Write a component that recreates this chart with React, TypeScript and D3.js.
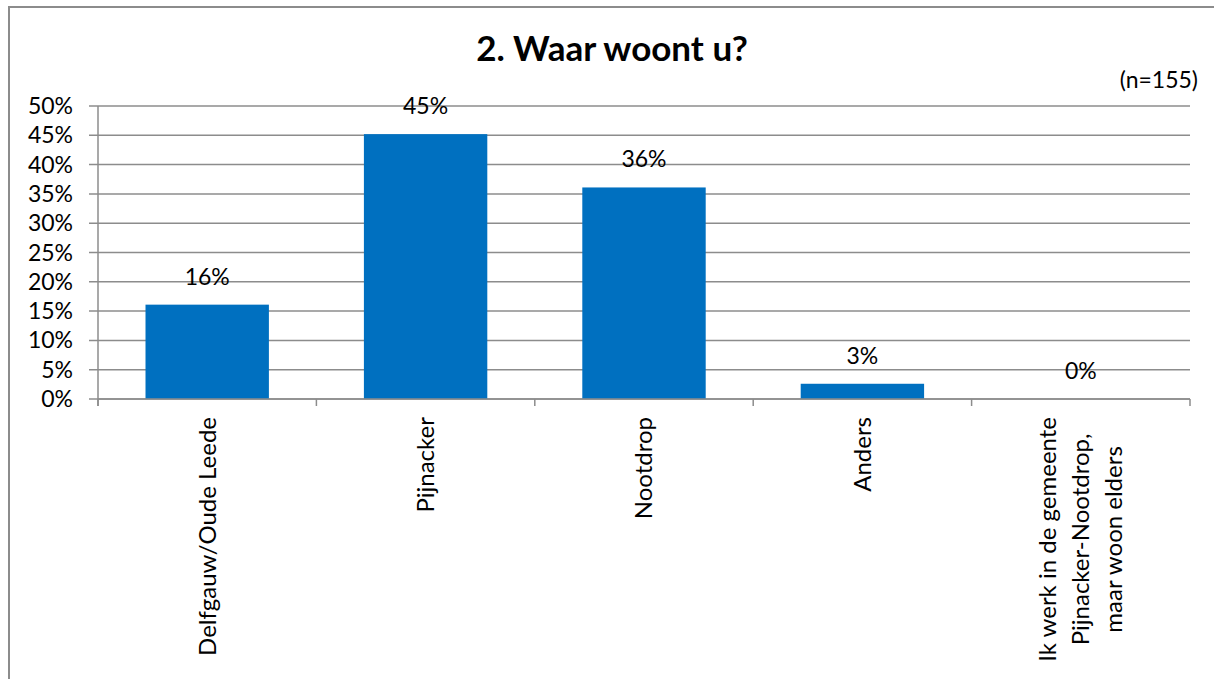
import React, { useEffect, useRef } from "react";
import * as d3 from "d3";

const categoryLines: string[][] = [
  ["Delfgauw/Oude Leede"],
  ["Pijnacker"],
  ["Nootdrop"],
  ["Anders"],
  ["Ik werk in de gemeente", "Pijnacker-Nootdrop,", "maar woon elders"],
];
const values = [16.1, 45.2, 36.1, 2.6, 0];
const yTicks = [0, 5, 10, 15, 20, 25, 30, 35, 40, 45, 50];
const title = "2. Waar woont u?";
const note = "(n=155)";

const W = 1214;
const H = 679;
const FONT = "Lato, 'Liberation Sans', sans-serif";
const GRID = "#8c8c8c";
const BAR = "#0070C0";

export default function App() {
  const ref = useRef<SVGSVGElement | null>(null);

  useEffect(() => {
    const svg = d3.select(ref.current);
    svg.selectAll("*").remove();

    const left = 98, right = 1190, top = 106, bottom = 399;
    const idx = categoryLines.map((_, i) => String(i));
    const x = d3.scaleBand().domain(idx).range([left, right]).paddingInner(0.435).paddingOuter(0.2175);
    const step = x.step();
    const y = d3.scaleLinear().domain([0, 50]).range([bottom, top]);

    // outer border
    svg.append("rect").attr("x", 9).attr("y", 7).attr("width", 1400).attr("height", 900)
      .attr("fill", "none").attr("stroke", GRID).attr("stroke-width", 2);

    // title
    svg.append("text").attr("x", 612).attr("y", 61).attr("text-anchor", "middle")
      .attr("font-family", FONT).attr("font-weight", "bold").attr("font-size", 35).attr("fill", "#000").text(title);
    svg.append("text").attr("x", 1198).attr("y", 88).attr("text-anchor", "end")
      .attr("font-family", FONT).attr("font-size", 23).attr("fill", "#000").text(note);

    // gridlines
    svg.append("g").selectAll("line").data(yTicks).join("line")
      .attr("x1", left - 9).attr("x2", right).attr("y1", (d) => y(d)).attr("y2", (d) => y(d))
      .attr("stroke", GRID).attr("stroke-width", 1.5);

    // y labels
    svg.append("g").selectAll("text").data(yTicks).join("text")
      .attr("x", 73).attr("y", (d) => y(d)).attr("dy", "0.35em").attr("text-anchor", "end")
      .attr("font-family", FONT).attr("font-size", 23).attr("fill", "#000").text((d) => `${d}%`);

    // bars
    svg.append("g").selectAll("rect").data(values).join("rect")
      .attr("x", (_, i) => x(String(i))!).attr("width", x.bandwidth())
      .attr("y", (d) => y(d)).attr("height", (d) => y(0) - y(d)).attr("fill", BAR);

    // axes lines
    svg.append("line").attr("x1", left).attr("x2", left).attr("y1", top).attr("y2", bottom + 7)
      .attr("stroke", GRID).attr("stroke-width", 1.5);
    svg.append("line").attr("x1", left).attr("x2", right).attr("y1", bottom).attr("y2", bottom)
      .attr("stroke", GRID).attr("stroke-width", 1.5);
    svg.append("g").selectAll("line").data(d3.range(categoryLines.length + 1)).join("line")
      .attr("x1", (k) => left + k * step).attr("x2", (k) => left + k * step)
      .attr("y1", bottom).attr("y2", bottom + 7).attr("stroke", GRID).attr("stroke-width", 1.5);

    // value labels
    svg.append("g").selectAll("text").data(values).join("text")
      .attr("x", (_, i) => x(String(i))! + x.bandwidth() / 2).attr("y", (d) => y(d) - 20)
      .attr("text-anchor", "middle").attr("font-family", FONT).attr("font-size", 23).attr("fill", "#000")
      .text((d) => `${Math.round(d)}%`);

    // category labels
    const lineGap = 33;
    categoryLines.forEach((lines, i) => {
      const cx = x(String(i))! + x.bandwidth() / 2;
      const g = svg.append("g").attr("transform", `translate(${cx},${bottom + 18}) rotate(-90)`);
      const texts = lines.map((ln, j) =>
        g.append("text").attr("y", (j - (lines.length - 1) / 2) * lineGap).attr("dy", "0.35em")
          .attr("text-anchor", "middle").attr("font-family", FONT).attr("font-size", 24).attr("fill", "#000").text(ln)
      );
      const maxLen = d3.max(texts, (t) => (t.node() as SVGTextElement).getComputedTextLength()) || 0;
      texts.forEach((t) => t.attr("x", -maxLen / 2));
    });
  }, []);

  return (
    <svg ref={ref} width={W} height={H} style={{ position: "absolute", left: 0, top: 0, background: "#fff" }} />
  );
}
